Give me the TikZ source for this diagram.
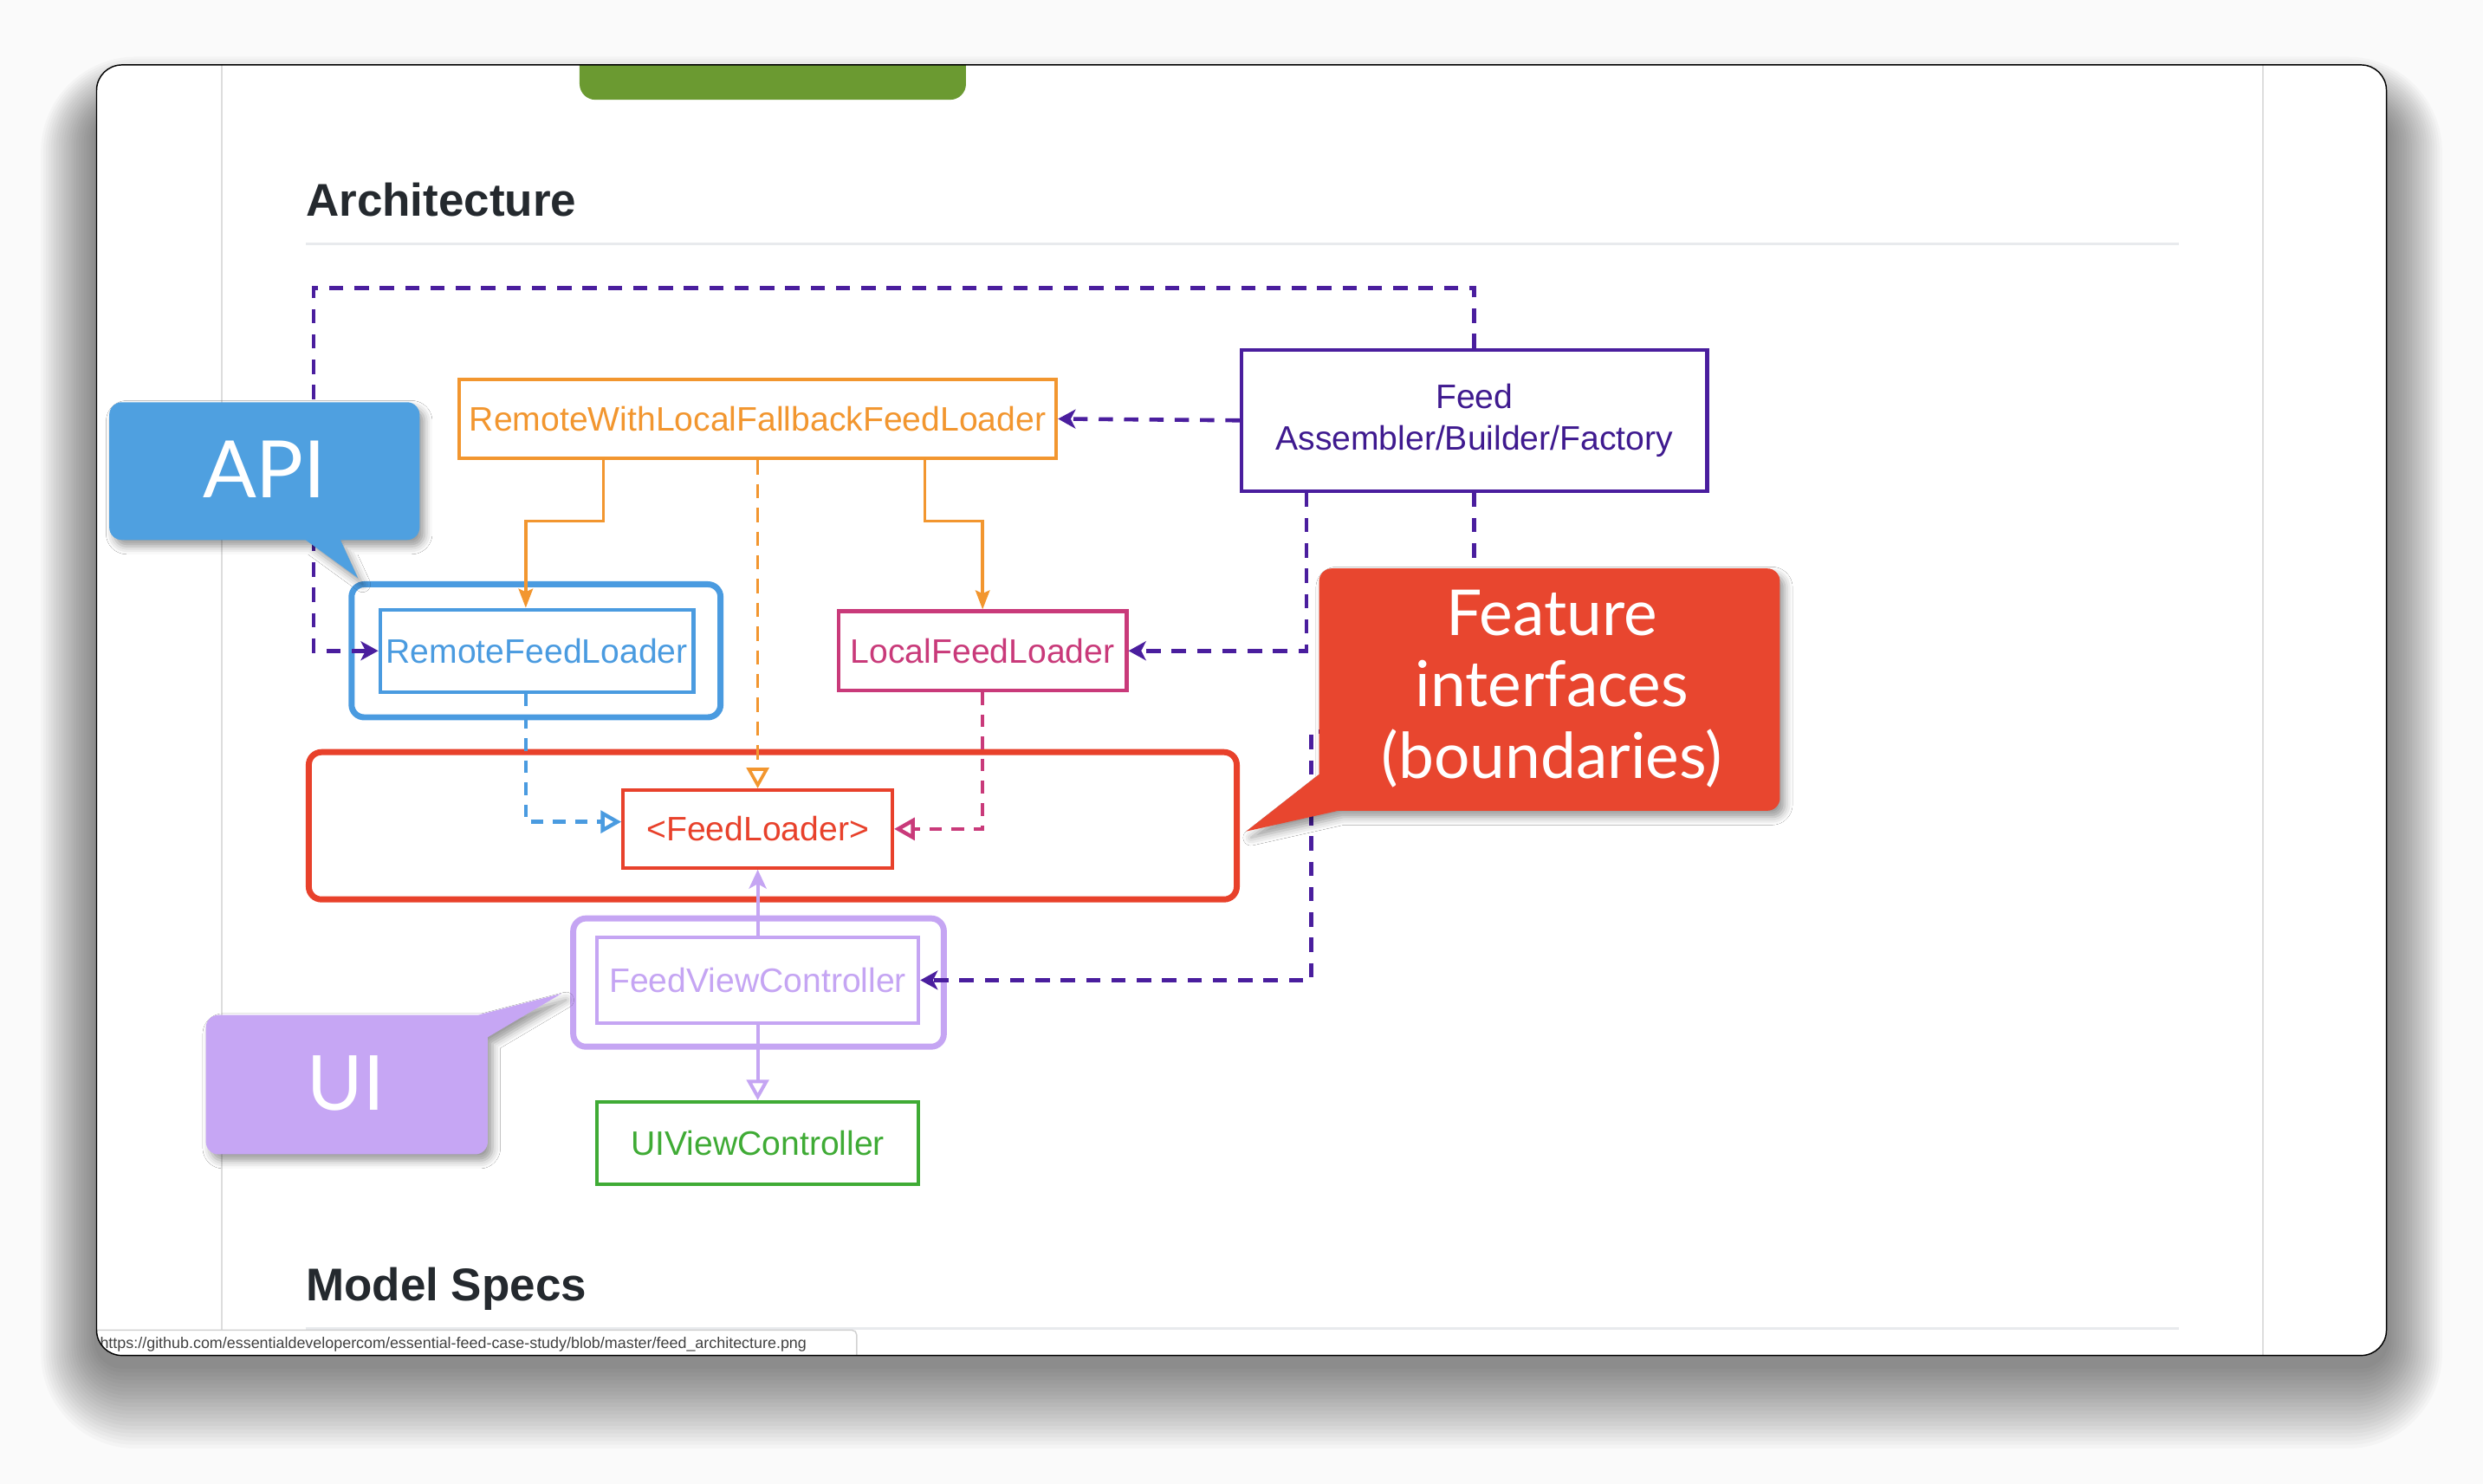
\documentclass[tikz,border=0pt]{standalone}
\usepackage{fontspec}
\setmainfont{Liberation Sans}
\newfontfamily\calloutfont{Lato}
\usetikzlibrary{arrows.meta,shadows.blur,calc}

\definecolor{corange}{RGB}{242,150,47}
\definecolor{cpurple}{RGB}{74,30,158}
\definecolor{cpurpletext}{RGB}{63,26,143}
\definecolor{cblue}{RGB}{74,155,224}
\definecolor{cpink}{RGB}{201,58,122}
\definecolor{cred}{RGB}{232,65,43}
\definecolor{clav}{RGB}{197,165,243}
\definecolor{cgreen}{RGB}{63,171,53}
\definecolor{ctab}{RGB}{107,154,49}
\definecolor{capi}{RGB}{79,160,224}
\definecolor{cfeat}{RGB}{232,70,47}
\definecolor{cui}{RGB}{198,166,244}
\definecolor{cghtext}{RGB}{36,41,46}
\definecolor{crule}{RGB}{232,234,237}
\definecolor{cvline}{RGB}{221,221,221}

\newcommand\diagfont{\fontsize{21.4}{26}\selectfont}

\begin{document}
\begin{tikzpicture}[x=1pt,y=-1pt,
  box/.style={draw=#1, text=#1, line width=2.3pt, inner sep=0pt, font=\diagfont},
  container/.style={draw=#1, line width=3.8pt, rounded corners=8pt},
  pdash/.style={draw=cpurple, line width=2.5pt, dash pattern=on 9pt off 7pt,
     -{Stealth[length=11pt,width=12pt,inset=3pt]}},
  oline/.style={draw=corange, line width=2pt, -{Stealth[length=12pt,width=9pt,inset=2pt]}},
  odash/.style={draw=corange, line width=2pt, dash pattern=on 9pt off 6pt,
     -{Triangle[open,length=13pt,width=14pt]}},
  bdash/.style={draw=cblue, line width=2.4pt, dash pattern=on 8pt off 6pt,
     -{Triangle[open,length=13pt,width=14pt]}},
  kdash/.style={draw=cpink, line width=2.4pt, dash pattern=on 8pt off 6pt,
     -{Triangle[open,length=13pt,width=14pt]}},
  lline/.style={draw=clav, line width=2.2pt},
  callout/.style={fill=#1, blur shadow={shadow xshift=3pt, shadow yshift=-4pt, shadow blur radius=5pt, shadow opacity=40}},
  callouttext/.style={text=white, inner sep=0pt, font=\calloutfont\fontsize{#1}{50}\selectfont},
  heading/.style={anchor=base west, inner sep=0pt, text=cghtext, font=\bfseries\fontsize{29}{32}\selectfont}
]
\useasboundingbox (0,0) rectangle (1568,937);
\fill[white!98!black] (0,0) rectangle (1568,937);

% soft window shadow
\foreach \e in {2,4,...,44}{
  \fill[black, opacity=0.022, rounded corners={16pt+\e*1pt}]
    ({61-0.8*\e},{71-0.8*\e}) rectangle ({1507+0.8*\e},{862+1.2*\e});
}
% window
\fill[white, rounded corners=16pt] (61,41) rectangle (1507,856);

\begin{scope}
  \clip[rounded corners=16pt] (61,41) rectangle (1507,856);
  \draw[cvline, line width=1pt] (140,41) -- (140,856);
  \draw[cvline, line width=1pt] (1429,41) -- (1429,856);
  \fill[ctab, rounded corners=10pt] (366,30) -- (366,63) -- (610,63) -- (610,30) -- cycle;
  \draw[crule, line width=1.5pt] (193,154) -- (1376,154);
  \draw[crule, line width=1.5pt] (193,839) -- (1376,839);
  \filldraw[fill=white, draw=black!18, line width=0.8pt, rounded corners=3pt] (55,862) -- (55,840) -- (541,840) -- (541,862);
  \node[anchor=base west, inner sep=0pt, text=black!75, font=\fontsize{9.8}{11}\selectfont] (url) at (63,851.5)
    {https://github.com/essentialdevelopercom/essential-feed-case-study/blob/master/feed\_architecture.png};
\end{scope}

\node[heading] (arch) at (193,136.5) {Architecture};
\node[heading] (specs) at (193,821.5) {Model Specs};

% containers
\draw[container=cblue] (222,369) rectangle (455,453);
\draw[container=cred] (195,475) rectangle (781,568);
\draw[container=clav] (362,580) rectangle (596,661);

% nodes
\node[box=corange, minimum width=377pt, minimum height=50pt] (rwl) at (478.5,264.5) {RemoteWithLocalFallbackFeedLoader};
\node[box=cpurple, text=cpurpletext, minimum width=294pt, minimum height=89pt, align=center] (feed) at (931,265.5) {Feed\\Assembler/Builder/Factory};
\node[box=cblue, minimum width=198pt, minimum height=52pt] (rflin) at (339,411) {RemoteFeedLoader};
\node[box=cpink, minimum width=182pt, minimum height=50pt] (lfl) at (620.5,411) {LocalFeedLoader};
\node[box=cred, minimum width=170pt, minimum height=49pt] (fl) at (478.5,523.5) {<FeedLoader>};
\node[box=clav, minimum width=203pt, minimum height=54pt] (fvcin) at (478.5,619) {FeedViewController};
\node[box=cgreen, minimum width=203pt, minimum height=52pt] (uivc) at (478.5,722) {UIViewController};

% helper coordinates
\coordinate (ob1) at (381,329);
\coordinate (ob2) at (332,329);
\coordinate (ob3) at (584,329);
\coordinate (ob4) at (620.5,329);
\coordinate (bx) at (332,0);
\coordinate (pc1) at (198,182);
\coordinate (pc3) at (825,0);
\coordinate (pc4) at (828,462);

% orange
\draw[oline] (rwl.south -| ob1) -- (ob1) -- (ob2) -- (rflin.north -| ob2);
\draw[oline] (rwl.south -| ob3) -- (ob3) -- (ob4) -- (lfl.north);
\draw[odash] (rwl.south) -- (fl.north);
% blue / pink
\draw[bdash] (rflin.south -| bx) |- ($(fl.west)+(0,-4.5)$);
\draw[kdash] (lfl.south) |- (fl.east);
% purple
\draw[pdash] (feed.north) |- (pc1) |- (rflin.west);
\draw[pdash] (feed.west) -- (rwl.east);
\draw[pdash] (feed.south -| pc3) |- (lfl.east);
\draw[pdash] (feed.south) |- (pc4) |- (fvcin.east);
% lavender
\draw[lline, -{Stealth[length=12pt,width=11pt,inset=3pt]}] (fvcin.north) -- (fl.south);
\draw[lline, -{Triangle[open,length=13pt,width=14pt]}] (fvcin.south) -- (uivc.north);

% callouts
\fill[callout=capi] (193,341) -- (226,365) -- (215,341) [rounded corners=8pt] -- (265,341) -- (265,254) -- (69,254) -- (69,341) [sharp corners] -- cycle;
\node[callouttext=50, anchor=base] (api) at (167,314.5) {API};

\fill[callout=cui] (302,641) -- (354.5,627.5) -- (308,655) [rounded corners=8pt] -- (308,729) -- (130,729) -- (130,641) [sharp corners] -- cycle;
\node[callouttext=48, anchor=base] (ui) at (218.5,701) {UI};

\fill[callout=cfeat] (833,489) -- (787,525) -- (845,512) [rounded corners=8pt] -- (1124,512) -- (1124,359) -- (833,359) [sharp corners] -- cycle;
\node[text=white, inner sep=0pt, align=center, font=\calloutfont\fontsize{40}{45}\selectfont] (feat) at (980,435) {Feature\\interfaces\\(boundaries)};

% window border
\draw[black, line width=0.8pt, rounded corners=16pt] (61,41) rectangle (1507,856);
\end{tikzpicture}
\end{document}
